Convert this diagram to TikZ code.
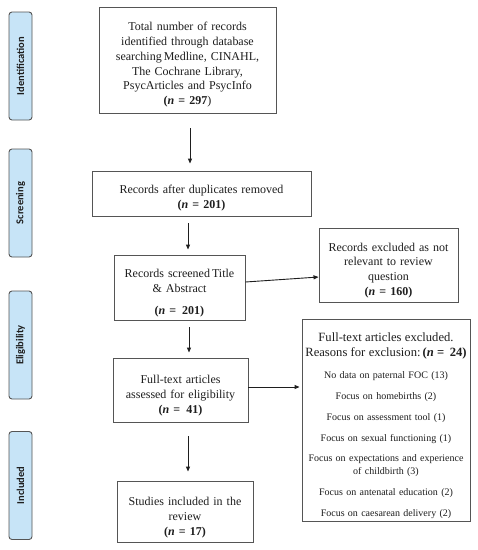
\documentclass[tikz,border=0pt]{standalone}
\usepackage{fontspec}
\setmainfont{Liberation Serif}
\newfontfamily\labfont{Carlito}
\usetikzlibrary{arrows.meta}
\definecolor{lblue}{HTML}{C7E4F7}
\definecolor{bord}{HTML}{555555}
\definecolor{txt}{HTML}{1E1E1E}
\newcommand{\bigf}{\fontsize{12.6}{15.5}\selectfont}
\newcommand{\smf}{\fontsize{10}{13}\selectfont}
\newcommand{\topup}[1]{\rule{0pt}{#1}}
\begin{document}
\begin{tikzpicture}[x=1pt,y=-1pt,
  box/.style={draw=bord, line width=0.9pt, align=center, inner xsep=3pt, inner ysep=2pt, text=txt,
    font=\fontsize{12}{14.8}\selectfont},
  phase/.style={draw=bord, line width=0.9pt, fill=lblue, rounded corners=3pt, rotate=90,
    minimum width=108pt, minimum height=23pt, inner sep=0pt, text=txt,
    font=\labfont\bfseries\fontsize{10.5}{12}\selectfont},
  arr/.style={draw=txt, line width=0.9pt, -{Triangle[length=5pt,width=4pt]}}]
\useasboundingbox (0,0) rectangle (478,550);
\fill[white] (0,0) rectangle (478,550);
\node[phase] (ph1) at (20.5,66) {Identification};
\node[phase] (ph2) at (20.5,203) {Screening};
\node[phase] (ph3) at (20.5,345) {Eligibility};
\node[phase] (ph4) at (20.5,485.5) {Included};

\node[box, text width=171pt, minimum height=106pt] (b1) at (187.5,60)
  {\topup{18pt}Total number of records\\identified through database\\searching\,Medline, CINAHL,\\The Cochrane Library,\\PsycArticles and PsycInfo\\\textbf{(\textit{n} = 297})};
\node[box, text width=213pt, minimum height=45pt] (b2) at (201.5,193.5)
  {\topup{18pt}Records after duplicates removed\\\textbf{(\textit{n} = 201)}};
\node[box, text width=125pt, minimum height=65pt] (b3) at (179.5,287.5)
  {\topup{20pt}Records screened\,Title\\\& Abstract\\[7pt]\textbf{(\textit{n} =\, 201)}};
\node[box, text width=133pt, minimum height=74pt] (b4) at (388.5,265)
  {\topup{19pt}Records excluded as not\\relevant to review\\question\\\textbf{(\textit{n} = 160)}};
\node[box, text width=129pt, minimum height=64pt] (b5) at (180.5,390)
  {\topup{19pt}Full-text articles\\assessed for eligibility\\\textbf{(\textit{n} =\, 41)}};
\node[box, text width=162pt, minimum height=202pt, font=\smf] (b6) at (386,420)
  {\bigf\topup{20pt}Full-text articles excluded.\\\bigf Reasons for exclusion:\,\textbf{(\textit{n} =\, 24)}\\[9pt]
   \smf No data on paternal FOC (13)\\[7.8pt]
   \smf Focus on homebirths (2)\\[7.8pt]
   \smf Focus on assessment tool (1)\\[7.8pt]
   \smf Focus on sexual functioning (1)\\[7.8pt]
   \smf Focus on expectations and experience\\\smf of childbirth (3)\\[7.8pt]
   \smf Focus on antenatal education (2)\\[7.8pt]
   \smf Focus on caesarean delivery (2)};
\node[box, text width=130pt, minimum height=61pt] (b7) at (185,511.5)
  {\topup{20pt}Studies included in the\\review\\\textbf{(\textit{n} = 17)}};

\draw[arr, shorten <=15pt, shorten >=7pt] ([xshift=2.5pt]b1.south) -- ([xshift=2.5pt]b1.south |- b2.north);
\draw[arr, shorten <=7pt, shorten >=5pt] ([xshift=8.5pt]b3.north |- b2.south) -- ([xshift=8.5pt]b3.north);
\draw[arr, shorten <=7pt, shorten >=5pt] ([xshift=9.5pt]b3.south) -- ([xshift=9.5pt]b3.south |- b5.north);
\draw[arr, shorten <=14pt, shorten >=9pt] ([xshift=3pt]b7.north |- b5.south) -- ([xshift=3pt]b7.north);
\draw[arr] ([yshift=5.5pt]b3.east) -- ([yshift=-12pt]b4.west);
\draw[arr, shorten >=2pt] ([yshift=3pt]b5.east) -- ([yshift=3pt]b5.east -| b6.west);
\end{tikzpicture}
\end{document}
